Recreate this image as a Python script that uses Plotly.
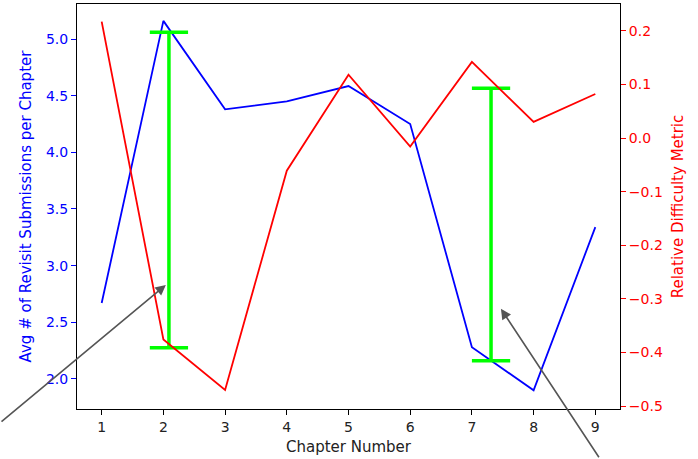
import plotly.graph_objects as go

chapters = [1, 2, 3, 4, 5, 6, 7, 8, 9]
avg_revisits = [2.67, 5.16, 4.38, 4.45, 4.585, 4.25, 2.28, 1.90, 3.34]
difficulty = [0.217, -0.376, -0.470, -0.061, 0.118, -0.016, 0.142, 0.030, 0.082]

left_ticks = [2.0, 2.5, 3.0, 3.5, 4.0, 4.5, 5.0]
right_ticks = [-0.5, -0.4, -0.3, -0.2, -0.1, 0.0, 0.1, 0.2]

# green range markers (x, top, bottom) on left axis
range_x = [2.09, 7.31]
range_top = [5.06, 4.565]
range_bottom = [2.275, 2.16]
cap_half = 0.31

# grey arrow heads (x, y on left axis) and tail offsets in px
arrow_x = [2.04, 7.47]
arrow_y = [2.83, 2.62]
arrow_ax = [-166, 99]
arrow_ay = [138, 150]

FONT = "DejaVu Sans"
FS = 15
TFS = 14
BLUE = "#0000ff"
RED = "#ff0000"
GREEN = "#00ff00"

fig = go.Figure()
fig.add_trace(go.Scatter(x=chapters, y=avg_revisits, mode="lines",
                         line=dict(color=BLUE, width=1.8), yaxis="y", showlegend=False))

for xv, top, bot in zip(range_x, range_top, range_bottom):
    fig.add_trace(go.Scatter(x=[xv, xv], y=[top, bot], mode="lines",
                             line=dict(color=GREEN, width=3.5), yaxis="y", showlegend=False))
    for yv in (top, bot):
        fig.add_trace(go.Scatter(x=[xv - cap_half, xv + cap_half], y=[yv, yv], mode="lines",
                                 line=dict(color=GREEN, width=3.5), yaxis="y", showlegend=False))

fig.add_trace(go.Scatter(x=chapters, y=difficulty, mode="lines",
                         line=dict(color=RED, width=1.8), yaxis="y2", showlegend=False))

for xv, yv, ax, ay in zip(arrow_x, arrow_y, arrow_ax, arrow_ay):
    fig.add_annotation(x=xv, y=yv, xref="x", yref="y", text="", showarrow=True,
                       ax=ax, ay=ay, arrowhead=2, arrowsize=1.3, arrowwidth=1.6,
                       arrowcolor="#555555")

fig.update_layout(
    width=698, height=459,
    margin=dict(l=77, r=78, t=4, b=50),
    paper_bgcolor="white", plot_bgcolor="white",
    font=dict(family=FONT, size=FS, color="#222222"),
    xaxis=dict(range=[0.6, 9.4], tickvals=chapters, ticks="outside", ticklen=5,
               tickcolor="black", showline=True, linecolor="black", linewidth=1,
               mirror=True, showgrid=False, zeroline=False,
               title=dict(text="Chapter Number", standoff=7, font=dict(size=FS)),
               tickfont=dict(size=TFS, color="#222222")),
    yaxis=dict(range=[1.735, 5.309], tickvals=left_ticks, tickformat=".1f",
               ticks="outside", ticklen=5, tickcolor=BLUE, showline=True,
               linecolor="black", linewidth=1, showgrid=False, zeroline=False,
               tickfont=dict(color=BLUE, size=TFS),
               title=dict(text="Avg # of Revisit Submissions per Chapter", standoff=10,
                          font=dict(color=BLUE, size=FS))),
    yaxis2=dict(range=[-0.5056, 0.250], tickvals=right_ticks, tickformat=".1f",
                overlaying="y", side="right", ticks="outside", ticklen=5,
                tickcolor=RED, showline=True, linecolor="black", linewidth=1,
                showgrid=False, zeroline=False,
                tickfont=dict(color=RED, size=TFS),
                title=dict(text="Relative Difficulty Metric", standoff=10,
                           font=dict(color=RED, size=FS))),
)

fig.write_html("out.html")
